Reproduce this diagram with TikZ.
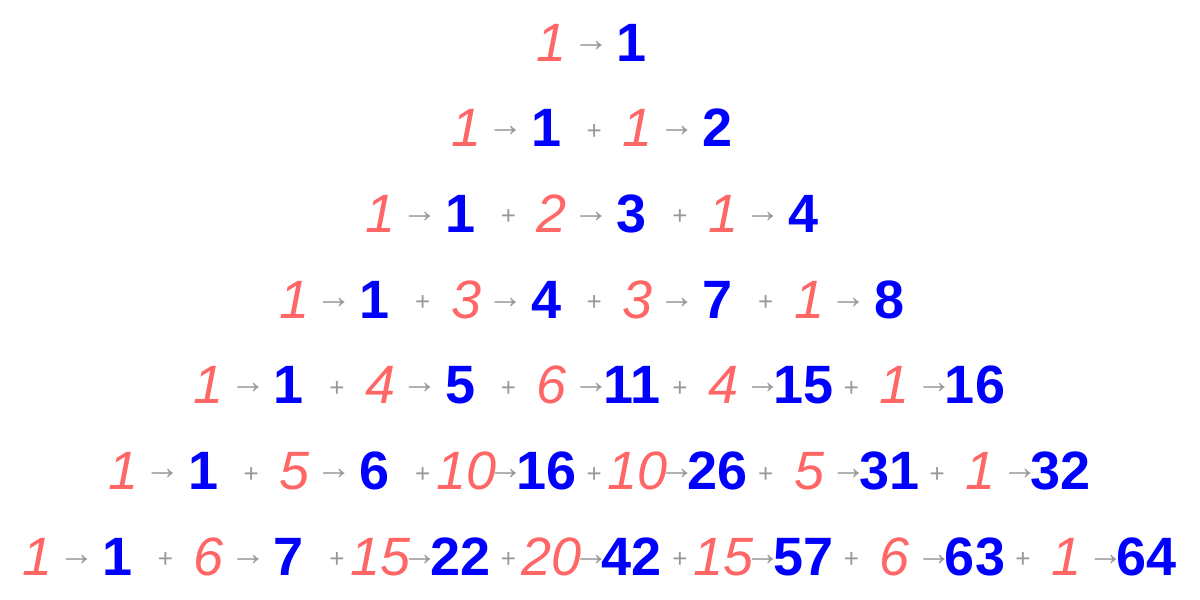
\documentclass[tikz,border=0pt]{standalone}
\usepackage{fontspec}
\setmainfont{Liberation Sans}
\definecolor{numred}{HTML}{FF6666}
\definecolor{numblue}{HTML}{0000FF}
\definecolor{opgray}{HTML}{999999}
\tikzset{
  rednum/.style={text=numred, font=\fontsize{54}{54}\selectfont\itshape, inner sep=0pt, anchor=base},
  bluenum/.style={text=numblue, font=\fontsize{54}{54}\selectfont\bfseries, inner sep=0pt, anchor=base},
  arrsym/.style={text=opgray, font=\fontsize{36}{36}\selectfont, inner sep=0pt, anchor=center},
  plussym/.style={text=opgray, font=\fontsize{26}{26}\selectfont, inner sep=0pt, anchor=center},
}
\newcommand\pascalrow[2]{%
  \foreach[count=\k from 0] \a/\b in {#2} {%
    \pgfmathsetmacro\xr{552-85.75*#1+171.5*\k}
    \pgfmathsetmacro\yb{61+85.7*#1}
    \pgfmathsetmacro\yc{\yb-18}
    \node[rednum] (r#1k\k) at (\xr,\yb) {\a};
    \node[arrsym] (ar#1k\k) at (\xr+39,\yc+3) {→};
    \node[bluenum] (b#1k\k) at (\xr+80,\yb) {\b};
    \ifnum\k<#1
      \node[plussym] (p#1k\k) at (\xr+128,\yc+3) {+};
    \fi
  }%
}
\begin{document}
\begin{tikzpicture}[x=1pt,y=-1pt]
\useasboundingbox (0,0) rectangle (1200,600);
\pascalrow{0}{1/1}
\pascalrow{1}{1/1,1/2}
\pascalrow{2}{1/1,2/3,1/4}
\pascalrow{3}{1/1,3/4,3/7,1/8}
\pascalrow{4}{1/1,4/5,6/11,4/15,1/16}
\pascalrow{5}{1/1,5/6,10/16,10/26,5/31,1/32}
\pascalrow{6}{1/1,6/7,15/22,20/42,15/57,6/63,1/64}
\end{tikzpicture}
\end{document}
